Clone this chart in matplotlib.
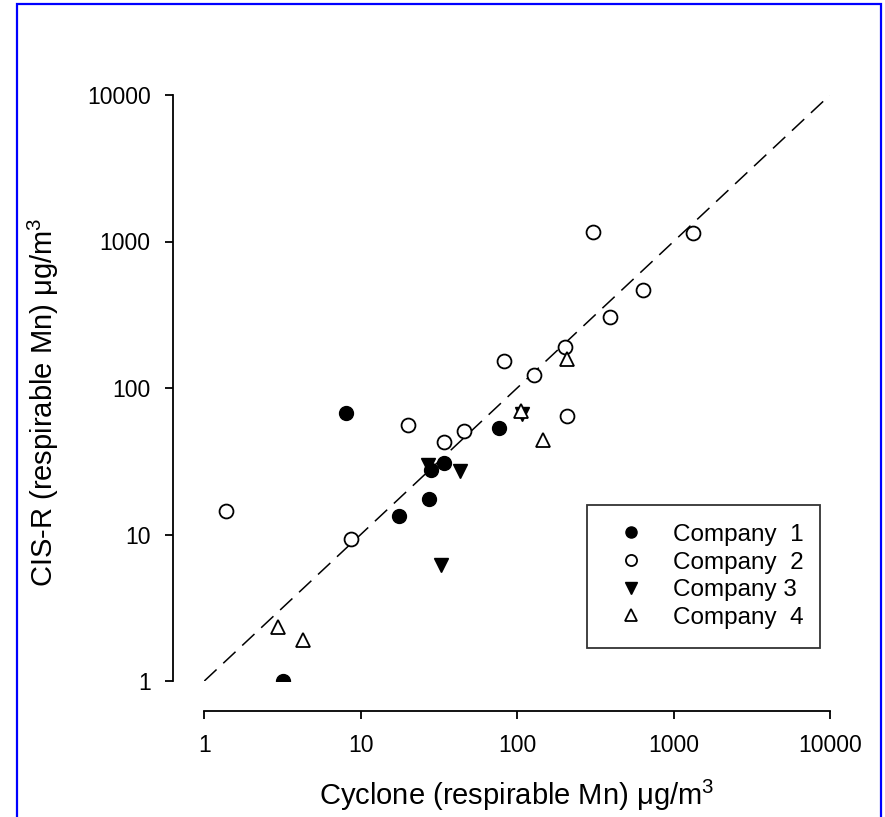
import numpy as np
import matplotlib
matplotlib.use('Agg')
import matplotlib.pyplot as plt
from matplotlib.patches import Rectangle

plt.rcParams['font.family'] = 'Liberation Sans'
plt.rcParams['mathtext.fontset'] = 'custom'
plt.rcParams['mathtext.rm'] = 'Liberation Sans'
plt.rcParams['mathtext.it'] = 'Liberation Sans'

# dane (cyclone, CIS-R)
c1_x = [8.0, 77, 34, 28, 27.5, 17.5, 3.2]
c1_y = [68, 53, 31, 27.5, 17.5, 13.3, 1.0]

c2_x = [1.38, 8.7, 20, 34, 46, 82, 128, 202, 207, 390, 635, 305, 1340]
c2_y = [14.5, 9.3, 56, 43, 51, 152, 123, 191, 64, 303, 463, 1155, 1140]

c3_x = [43, 32.5, 27, 108]
c3_y = [27, 6.2, 30, 66]

c4_x = [2.95, 4.3, 106, 147, 207]
c4_y = [2.35, 1.9, 70, 44, 157]

ticks = [1, 10, 100, 1000, 10000]

W, H = 885, 817
fig = plt.figure(figsize=(W / 100, H / 100), dpi=100)
ax = fig.add_axes([204.3 / W, 1 - 681 / H, 625.7 / W, 586 / H])

# ramka
fig.patches.append(Rectangle((17 / W, -0.05), (881 - 17) / W, 1.05 - 4.5 / H,
                             transform=fig.transFigure, fill=False,
                             edgecolor='#0000ff', linewidth=1.6))

ax.plot(ticks, ticks, color='black', linewidth=1.1, dashes=(11, 6), zorder=1)

ms = 10
ax.plot(c1_x, c1_y, 'o', color='black', markersize=ms, linestyle='none',
        label='Company  1', zorder=3)
ax.plot(c2_x, c2_y, 'o', markerfacecolor='white', markeredgecolor='black',
        markeredgewidth=1.3, markersize=ms, linestyle='none',
        label='Company  2', zorder=3)
ax.plot(c3_x, c3_y, 'v', color='black', markersize=ms, linestyle='none',
        label='Company 3', zorder=3)
ax.plot(c4_x, c4_y, '^', markerfacecolor='white', markeredgecolor='black',
        markeredgewidth=1.3, markersize=ms, linestyle='none',
        label='Company  4', zorder=3)

ax.set_xscale('log')
ax.set_yscale('log')
ax.set_xlim(1, 10000)
ax.set_ylim(1, 10000)
ax.set_xticks(ticks)
ax.set_yticks(ticks)
ax.set_xticklabels([str(t) for t in ticks])
ax.set_yticklabels([str(t) for t in ticks])
ax.minorticks_off()

ax.spines['top'].set_visible(False)
ax.spines['right'].set_visible(False)
ax.spines['left'].set_position(('outward', 22.8))
ax.spines['bottom'].set_position(('outward', 21.4))
ax.spines['left'].set_linewidth(1.3)
ax.spines['bottom'].set_linewidth(1.3)
ax.tick_params(axis='both', direction='out', length=5.8, width=1.3,
               labelsize=16.5, colors='black')
ax.tick_params(axis='y', pad=10)
ax.tick_params(axis='x', pad=11)

ax.set_xlabel('Cyclone (respirable Mn) μg/m$^3$', fontsize=21)
ax.set_ylabel('CIS-R (respirable Mn) μg/m$^3$', fontsize=21)
ax.xaxis.label.set_va('center')
ax.yaxis.label.set_va('center')
ax.xaxis.set_label_coords(0.5, (681 - 795) / 586)
ax.yaxis.set_label_coords((43 - 204.3) / 625.7, (681 - 402) / 586)

leg = ax.legend(loc='upper left', bbox_to_anchor=((587 - 204.3) / 625.7, (681 - 505) / 586,
                                                  (820 - 587) / 625.7, 0),
                mode='expand', fontsize=17.5, markerscale=0.8, frameon=True,
                fancybox=False, edgecolor='black', borderpad=0.78,
                handlelength=2.1, handletextpad=0.66, labelspacing=0.23,
                borderaxespad=0)
leg.get_frame().set_linewidth(1.3)

fig.savefig('out.png', dpi=100)
